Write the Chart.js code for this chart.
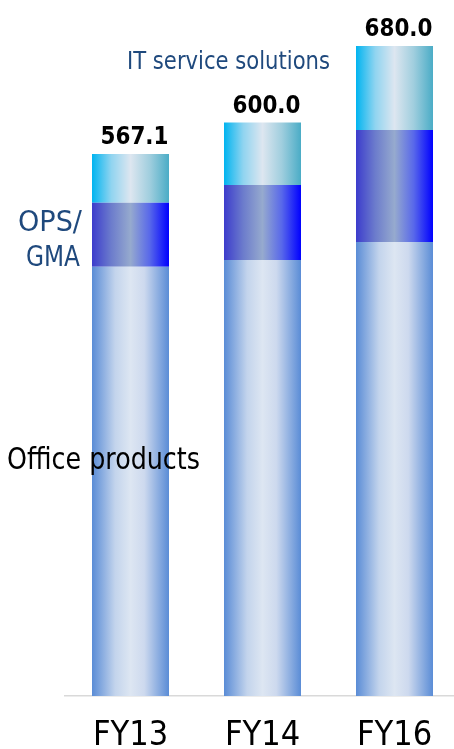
<!DOCTYPE html>
<html><head><meta charset="utf-8">
<script src="https://cdn.jsdelivr.net/npm/chart.js@4"></script>
<style>html,body{margin:0;padding:0;background:#fff;overflow:hidden;width:454px;height:749px}canvas{display:block}</style>
</head><body>
<canvas id="c" width="470" height="749"></canvas>
<script>
const categories = ['FY13', 'FY14', 'FY16'];
const officeProducts = [449.2, 456.2, 475.0];
const opsGma = [67.0, 78.5, 117.2];
const itService = [50.9, 65.3, 87.8];
const totalLabels = ['567.1', '600.0', '680.0'];
const seriesNames = ['Office products', 'OPS/GMA', 'IT service solutions'];

const CAT_PCT = 0.5833;
function grad(stops){
  return function(ctx){
    const c = ctx.chart, a = c.chartArea;
    if (!a || !c.scales.x) return stops[0][1];
    const x = c.scales.x.getPixelForValue(ctx.dataIndex);
    const w = (a.right - a.left) / categories.length * CAT_PCT;
    const g = c.ctx.createLinearGradient(x - w/2, 0, x + w/2, 0);
    stops.forEach(s => g.addColorStop(s[0], s[1]));
    return g;
  };
}
const officeGrad = grad([[0,'#5a8cd6'],[0.3,'#c3d4ec'],[0.5,'#dde6f2'],[0.68,'#cdd9ee'],[1,'#5a8cd6']]);
const opsGrad = grad([[0,'#3c3ccc'],[0.25,'#6c7ccc'],[0.5,'#96aace'],[0.75,'#5868ea'],[1,'#0000ff']]);
const itGrad = grad([[0,'#00b4f0'],[0.25,'#90d4f0'],[0.5,'#dde6f0'],[0.75,'#a0cede'],[1,'#4aacc6']]);

const textPlugin = {
  id: 'texts',
  afterDatasetsDraw(chart){
    const ctx = chart.ctx;
    const meta = chart.getDatasetMeta(2);
    ctx.save();
    ctx.textAlign = 'center';
    ctx.textBaseline = 'alphabetic';
    ctx.fillStyle = '#000';
    ctx.font = 'bold 24px "DejaVu Sans"';
    meta.data.forEach((bar, i) => {
      ctx.fillText(totalLabels[i], bar.x + 4, bar.y - 10, 68);
    });
    ctx.fillStyle = '#1f497d';
    ctx.textAlign = 'left';
    ctx.font = '24px "DejaVu Sans"';
    ctx.fillText(seriesNames[2], 127, 69, 203);
    ctx.textAlign = 'center';
    ctx.font = '29px "DejaVu Sans"';
    const ops = seriesNames[1].split('/');
    ctx.fillText(ops[0] + '/', 50, 231, 64);
    ctx.fillText(ops[1], 53, 266, 54);
    ctx.fillStyle = '#000';
    ctx.textAlign = 'left';
    ctx.font = '30px "DejaVu Sans"';
    ctx.fillText(seriesNames[0], 7, 469, 193);
    ctx.restore();
  }
};

new Chart(document.getElementById('c'), {
  type: 'bar',
  data: {
    labels: categories,
    datasets: [
      {label: seriesNames[0], data: officeProducts, backgroundColor: officeGrad},
      {label: seriesNames[1], data: opsGma, backgroundColor: opsGrad},
      {label: seriesNames[2], data: itService, backgroundColor: itGrad}
    ]
  },
  options: {
    responsive: false,
    animation: false,
    devicePixelRatio: 1,
    layout: {padding: {left: 64.5, right: 9.5, top: 27, bottom: 0}},
    datasets: {bar: {categoryPercentage: CAT_PCT, barPercentage: 1, borderWidth: 0}},
    plugins: {legend: {display: false}, tooltip: {enabled: false}, title: {display: false}},
    scales: {
      x: {
        stacked: true,
        afterFit(scale){ scale.height = 53; },
        grid: {display: false, drawTicks: false},
        border: {display: true, color: '#d9d9d9', width: 1.5},
        ticks: {color: '#000', padding: 23, font: {family: '"DejaVu Sans Condensed", "DejaVu Sans"', size: 34, lineHeight: 1}}
      },
      y: {stacked: true, display: false, min: 0, max: 700}
    }
  },
  plugins: [textPlugin]
});
</script>
</body></html>
